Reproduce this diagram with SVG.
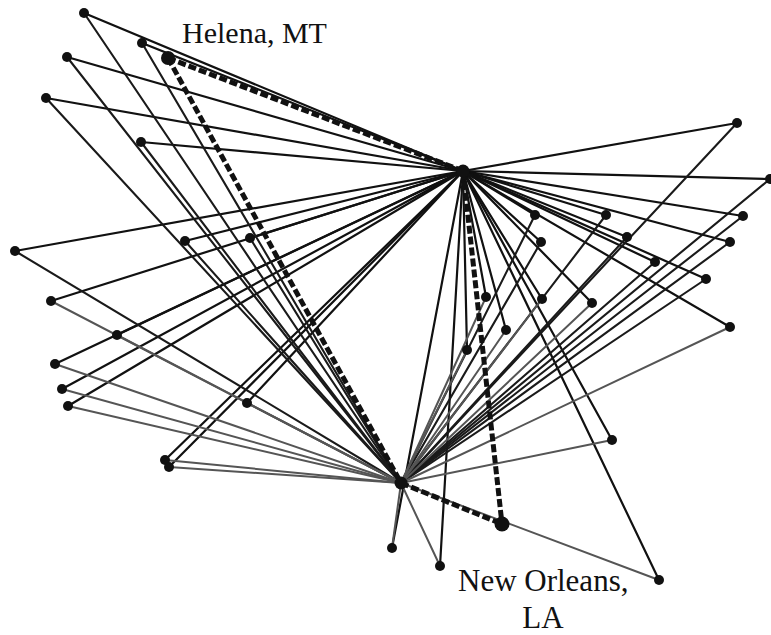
<svg xmlns="http://www.w3.org/2000/svg" width="771" height="635" viewBox="0 0 771 635">
<style>
line{fill:none;stroke-linecap:round}
.t{stroke:#111;stroke-width:2.2}
.b{stroke:#1a1a1a;stroke-width:2.1}
.g{stroke:#555;stroke-width:2}
.d{stroke:#111;stroke-width:5;stroke-dasharray:8 3;stroke-linecap:butt}
circle{fill:#111}
text{font-family:"Liberation Serif","Times New Roman",serif;font-size:30px;fill:#111}
</style>
<rect width="771" height="635" fill="#fff"/>
<g id="connectors">
<line class="t" x1="84" y1="13" x2="463" y2="171"/>
<line class="t" x1="142" y1="43" x2="463" y2="171"/>
<line class="t" x1="67" y1="57" x2="463" y2="171"/>
<line class="t" x1="46" y1="98" x2="463" y2="171"/>
<line class="t" x1="141" y1="142" x2="463" y2="171"/>
<line class="t" x1="15" y1="251" x2="463" y2="171"/>
<line class="t" x1="185" y1="241" x2="463" y2="171"/>
<line class="t" x1="250" y1="238" x2="463" y2="171"/>
<line class="t" x1="51" y1="301" x2="463" y2="171"/>
<line class="t" x1="117" y1="335" x2="463" y2="171"/>
<line class="t" x1="55" y1="364" x2="463" y2="171"/>
<line class="t" x1="62" y1="389" x2="463" y2="171"/>
<line class="t" x1="68" y1="406" x2="463" y2="171"/>
<line class="t" x1="247" y1="403" x2="463" y2="171"/>
<line class="t" x1="165" y1="460" x2="463" y2="171"/>
<line class="t" x1="169" y1="467" x2="463" y2="171"/>
<line class="t" x1="737" y1="123" x2="463" y2="171"/>
<line class="t" x1="770" y1="179" x2="463" y2="171"/>
<line class="t" x1="743" y1="216" x2="463" y2="171"/>
<line class="t" x1="730" y1="242" x2="463" y2="171"/>
<line class="t" x1="706" y1="279" x2="463" y2="171"/>
<line class="t" x1="606" y1="215" x2="463" y2="171"/>
<line class="t" x1="535" y1="215" x2="463" y2="171"/>
<line class="t" x1="627" y1="237" x2="463" y2="171"/>
<line class="t" x1="541" y1="242" x2="463" y2="171"/>
<line class="t" x1="655" y1="262" x2="463" y2="171"/>
<line class="t" x1="542" y1="299" x2="463" y2="171"/>
<line class="t" x1="592" y1="303" x2="463" y2="171"/>
<line class="t" x1="486" y1="297" x2="463" y2="171"/>
<line class="t" x1="506" y1="330" x2="463" y2="171"/>
<line class="t" x1="467" y1="350" x2="463" y2="171"/>
<line class="t" x1="730" y1="327" x2="463" y2="171"/>
<line class="t" x1="612" y1="440" x2="463" y2="171"/>
<line class="t" x1="392" y1="548" x2="463" y2="171"/>
<line class="t" x1="440" y1="566" x2="463" y2="171"/>
<line class="t" x1="659" y1="580" x2="463" y2="171"/>
<line class="b" x1="84" y1="13" x2="401" y2="483"/>
<line class="b" x1="142" y1="43" x2="401" y2="483"/>
<line class="b" x1="67" y1="57" x2="401" y2="483"/>
<line class="b" x1="46" y1="98" x2="401" y2="483"/>
<line class="b" x1="141" y1="142" x2="401" y2="483"/>
<line class="b" x1="15" y1="251" x2="401" y2="483"/>
<line class="b" x1="185" y1="241" x2="401" y2="483"/>
<line class="b" x1="250" y1="238" x2="401" y2="483"/>
<line class="g" x1="51" y1="301" x2="401" y2="483"/>
<line class="g" x1="117" y1="335" x2="401" y2="483"/>
<line class="g" x1="55" y1="364" x2="401" y2="483"/>
<line class="g" x1="62" y1="389" x2="401" y2="483"/>
<line class="g" x1="68" y1="406" x2="401" y2="483"/>
<line class="g" x1="247" y1="403" x2="401" y2="483"/>
<line class="g" x1="165" y1="460" x2="401" y2="483"/>
<line class="g" x1="169" y1="467" x2="401" y2="483"/>
<line class="b" x1="737" y1="123" x2="401" y2="483"/>
<line class="b" x1="770" y1="179" x2="401" y2="483"/>
<line class="b" x1="743" y1="216" x2="401" y2="483"/>
<line class="b" x1="730" y1="242" x2="401" y2="483"/>
<line class="b" x1="706" y1="279" x2="401" y2="483"/>
<line class="b" x1="606" y1="215" x2="401" y2="483"/>
<line class="b" x1="535" y1="215" x2="401" y2="483"/>
<line class="b" x1="627" y1="237" x2="401" y2="483"/>
<line class="b" x1="541" y1="242" x2="401" y2="483"/>
<line class="b" x1="655" y1="262" x2="401" y2="483"/>
<line class="g" x1="542" y1="299" x2="401" y2="483"/>
<line class="g" x1="592" y1="303" x2="401" y2="483"/>
<line class="g" x1="486" y1="297" x2="401" y2="483"/>
<line class="g" x1="506" y1="330" x2="401" y2="483"/>
<line class="g" x1="467" y1="350" x2="401" y2="483"/>
<line class="g" x1="730" y1="327" x2="401" y2="483"/>
<line class="g" x1="612" y1="440" x2="401" y2="483"/>
<line class="g" x1="392" y1="548" x2="401" y2="483"/>
<line class="g" x1="440" y1="566" x2="401" y2="483"/>
<line class="g" x1="659" y1="580" x2="401" y2="483"/>
<line class="d" x1="168" y1="58" x2="463" y2="171"/>
<line class="d" x1="168" y1="58" x2="401" y2="483"/>
<line class="d" x1="401" y1="483" x2="502" y2="524"/>
<line class="d" x1="463" y1="171" x2="502" y2="524"/>
</g>
<g id="hub-top"><circle cx="463" cy="171" r="6.5"/></g>
<g id="hub-bottom"><circle cx="401" cy="483" r="6.5"/></g>
<g id="helena"><circle cx="168" cy="58" r="7"/><text x="182" y="43">Helena, MT</text></g>
<g id="new-orleans"><circle cx="502" cy="524" r="7.5"/><text x="458" y="591" style="font-size:31px">New Orleans,</text><text x="543" y="628" text-anchor="middle" style="font-size:31px">LA</text></g>
<g id="n1"><circle cx="84" cy="13" r="5"/></g>
<g id="n2"><circle cx="142" cy="43" r="5"/></g>
<g id="n3"><circle cx="67" cy="57" r="5"/></g>
<g id="n4"><circle cx="46" cy="98" r="5"/></g>
<g id="n5"><circle cx="141" cy="142" r="5"/></g>
<g id="n6"><circle cx="15" cy="251" r="5"/></g>
<g id="n7"><circle cx="185" cy="241" r="5"/></g>
<g id="n8"><circle cx="250" cy="238" r="5"/></g>
<g id="n9"><circle cx="51" cy="301" r="5"/></g>
<g id="n10"><circle cx="117" cy="335" r="5"/></g>
<g id="n11"><circle cx="55" cy="364" r="5"/></g>
<g id="n12"><circle cx="62" cy="389" r="5"/></g>
<g id="n13"><circle cx="68" cy="406" r="5"/></g>
<g id="n14"><circle cx="247" cy="403" r="5"/></g>
<g id="n15"><circle cx="165" cy="460" r="5"/></g>
<g id="n16"><circle cx="169" cy="467" r="5"/></g>
<g id="r1"><circle cx="737" cy="123" r="5"/></g>
<g id="r2"><circle cx="770" cy="179" r="5"/></g>
<g id="r3"><circle cx="743" cy="216" r="5"/></g>
<g id="r4"><circle cx="730" cy="242" r="5"/></g>
<g id="r5"><circle cx="706" cy="279" r="5"/></g>
<g id="r6"><circle cx="606" cy="215" r="5"/></g>
<g id="r7"><circle cx="535" cy="215" r="5"/></g>
<g id="r8"><circle cx="627" cy="237" r="5"/></g>
<g id="r9"><circle cx="541" cy="242" r="5"/></g>
<g id="r10"><circle cx="655" cy="262" r="5"/></g>
<g id="r11"><circle cx="542" cy="299" r="5"/></g>
<g id="r12"><circle cx="592" cy="303" r="5"/></g>
<g id="r13"><circle cx="486" cy="297" r="5"/></g>
<g id="r14"><circle cx="506" cy="330" r="5"/></g>
<g id="r15"><circle cx="467" cy="350" r="5"/></g>
<g id="r16"><circle cx="730" cy="327" r="5"/></g>
<g id="r17"><circle cx="612" cy="440" r="5"/></g>
<g id="b1"><circle cx="392" cy="548" r="5"/></g>
<g id="b2"><circle cx="440" cy="566" r="5"/></g>
<g id="b3"><circle cx="659" cy="580" r="5"/></g>
</svg>
